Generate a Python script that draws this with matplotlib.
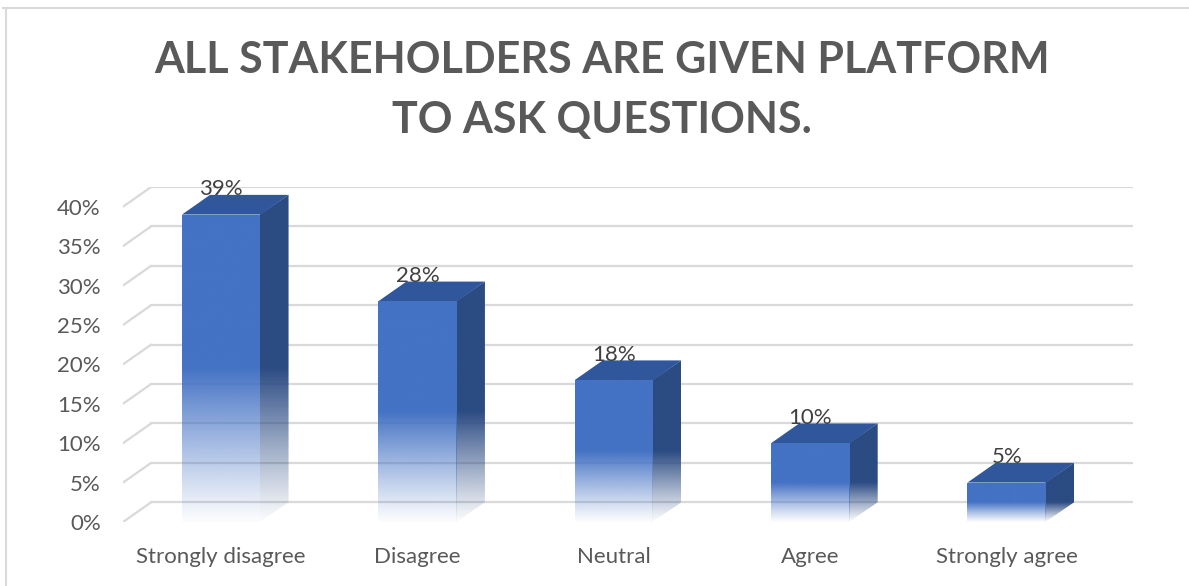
import numpy as np
import matplotlib
matplotlib.use("Agg")
from matplotlib import pyplot as plt
from matplotlib.patches import Polygon
from matplotlib.lines import Line2D

categories = ["Strongly disagree", "Disagree", "Neutral", "Agree", "Strongly agree"]
shares = [39, 28, 18, 10, 5]
tick_values = [0, 5, 10, 15, 20, 25, 30, 35, 40]
tick_labels = [f"{v}%" for v in tick_values]
title = "ALL STAKEHOLDERS ARE GIVEN PLATFORM\nTO ASK QUESTIONS."

FRONT = "#4472C4"
SIDE = "#2B4B83"
TOP = "#30579B"
GRID = "#D9D9D9"
TEXT = "#595959"

plt.rcParams["font.family"] = ["Lato", "DejaVu Sans"]

# depth of the 3D box in data units
DX = 0.143
DY = 2.5
HALF = 0.2

fig = plt.figure(figsize=(11.89, 5.86), dpi=100)
ax = fig.add_axes([123 / 1189, 64 / 586, 1010 / 1189, 335 / 586])
ax.set_xlim(-0.5, len(categories) - 0.5 + DX)
ax.set_ylim(0, 40 + DY)
for s in ax.spines.values():
    s.set_visible(False)

# floor/back-wall gridlines with the slanted left edge
for v in tick_values:
    ax.add_line(Line2D([-0.5, -0.5 + DX], [v, v + DY], color=GRID, lw=1.6,
                       zorder=1, solid_capstyle="round"))
    ax.add_line(Line2D([-0.5 + DX, len(categories) - 0.5 + DX], [v + DY, v + DY],
                       color=GRID, lw=1.6, zorder=1))


def faded_face(verts, color, height, zorder):
    # solid in the upper half of the bar, fading out towards the floor
    poly = Polygon(verts, closed=True, facecolor="none", edgecolor="none")
    ax.add_patch(poly)
    xs = [p[0] for p in verts]
    ys = [p[1] for p in verts]
    y0, y1 = min(ys), max(ys)
    rows = np.linspace(y0, y1, 300)
    alpha = np.clip(rows / (0.5 * height), 0.0, 1.0) ** 1.1
    alpha = 0.02 + 0.98 * alpha
    rgb = np.array(matplotlib.colors.to_rgb(color))
    img = np.ones((300, 2, 4))
    img[:, :, :3] = rgb
    img[:, :, 3] = alpha[:, None]
    im = ax.imshow(img, extent=(min(xs), max(xs), y0, y1), origin="lower",
                   aspect="auto", interpolation="bilinear", zorder=zorder)
    im.set_clip_path(poly)


for i, v in enumerate(shares):
    xl, xr = i - HALF, i + HALF
    faded_face([(xr - 0.004, 0), (xr + DX, DY), (xr + DX, v + DY), (xr - 0.004, v)],
               SIDE, v, 3)
    faded_face([(xl, 0), (xr, 0), (xr, v), (xl, v)], FRONT, v, 3.1)
    ax.add_patch(Polygon([(xl, v), (xr, v), (xr + DX, v + DY), (xl + DX, v + DY)],
                         closed=True, facecolor=TOP, edgecolor="none", zorder=3))
    ax.text(i, v + 3.2, f"{v}%", ha="center", va="center", fontsize=16,
            color="#404040", zorder=5)

ax.set_yticks(tick_values)
ax.set_yticklabels(tick_labels)
ax.set_xticks(range(len(categories)))
ax.set_xticklabels(categories)
ax.tick_params(axis="both", length=0, labelsize=16, labelcolor=TEXT)
ax.tick_params(axis="y", pad=16)
ax.tick_params(axis="x", pad=18)

fig.text(0.506, 0.846, title, ha="center", va="center", fontsize=31,
         fontweight="bold", color=TEXT, linespacing=1.6)

# chart frame (top and left edges)
fig.add_artist(Line2D([3 / 1189, 1], [1 - 8 / 586, 1 - 8 / 586], color="#D9D9D9", lw=1.5))
fig.add_artist(Line2D([6 / 1189, 6 / 1189], [0, 1 - 8 / 586], color="#D9D9D9", lw=1.5))

fig.savefig("out.png", dpi=100)
